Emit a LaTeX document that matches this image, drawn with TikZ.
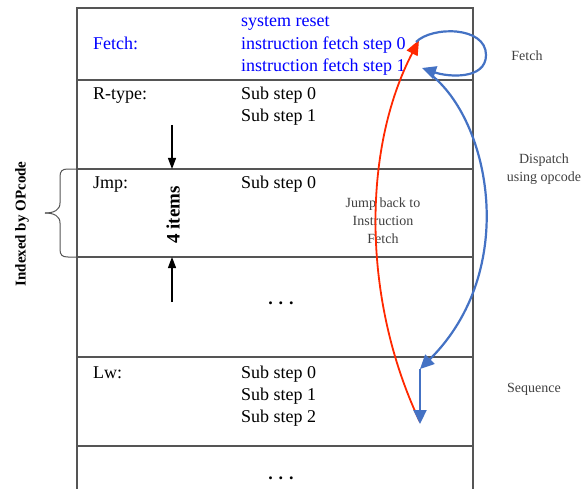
\documentclass[tikz,border=0pt]{standalone}
\usepackage{fontspec}
\setmainfont{Liberation Serif}
\usetikzlibrary{arrows.meta}
\definecolor{tline}{RGB}{85,85,85}
\definecolor{fblue}{RGB}{0,0,255}
\definecolor{abl}{RGB}{68,114,196}
\definecolor{ared}{RGB}{255,40,0}
\definecolor{lbl}{RGB}{64,64,64}
\begin{document}
\begin{tikzpicture}[x=1pt,y=-1pt,
  tbl/.style={draw=tline,line width=1.4pt},
  brc/.style={draw=tline,line width=1pt},
  cell/.style={anchor=base west,inner sep=0pt,font=\fontsize{18}{22}\selectfont},
  fcell/.style={cell,text=fblue},
  dots/.style={anchor=base,inner sep=0pt,font=\fontsize{18}{22}\selectfont\bfseries},
  side/.style={align=center,inner sep=0pt,text=lbl,font=\fontsize{14}{18}\selectfont},
  vlab/.style={rotate=90,inner sep=0pt,font=\fontsize{15}{18}\selectfont\bfseries},
  bigvlab/.style={vlab,font=\fontsize{19}{22}\selectfont\bfseries},
  bluearr/.style={draw=abl,line width=2.2pt,-{Triangle[length=14pt,width=13pt]}},
  redarr/.style={draw=ared,line width=1.8pt,-{Triangle[length=15pt,width=12pt]}},
  blkarr/.style={draw=black,line width=1.2pt,-{Triangle[length=11pt,width=8pt]}}
]
\useasboundingbox (0,0) rectangle (588,489);

% table frame
\draw[tbl] (77,489) -- (77,8) -- (473,8) -- (473,489);
\foreach \yy in {80,169,257,357,446} \draw[tbl] (77,\yy) -- (473,\yy);

% brace
\draw[brc] (77,169) -- (68,169) .. controls (62,169) and (60,171) .. (60,177) -- (60,203)
  .. controls (60,210) and (54,213) .. (45,213);
\draw[brc] (77,257) -- (68,257) .. controls (62,257) and (60,255) .. (60,249) -- (60,223)
  .. controls (60,216) and (54,213) .. (45,213);

% row texts
\node[fcell] (sysr) at (241,27) {system reset};
\node[fcell] (fetchl) at (93,50) {Fetch:};
\node[fcell] (if0) at (241,50) {instruction fetch step 0};
\node[fcell] (if1) at (241,72) {instruction fetch step 1};
\node[cell] (rtype) at (93,100) {R-type:};
\node[cell] (r0) at (241,100) {Sub step 0};
\node[cell] (r1) at (241,122) {Sub step 1};
\node[cell] (jmp) at (93,188) {Jmp:};
\node[cell] (j0) at (241,188) {Sub step 0};
\node[dots] (dots1) at (281,304) {. . .};
\node[cell] (lw) at (93,378) {Lw:};
\node[cell] (l0) at (241,378) {Sub step 0};
\node[cell] (l1) at (241,400) {Sub step 1};
\node[cell] (l2) at (241,422) {Sub step 2};
\node[dots] (dots2) at (281,479) {. . .};

% vertical labels
\node[vlab] (idx) at (22,224) {Indexed by OPcode};
\node[bigvlab] (items) at (173,215) {4 items};
\coordinate (a1s) at (172,125);
\coordinate (a1e) at (172,169);
\coordinate (a2s) at (172,302);
\coordinate (a2e) at (172,257);
\draw[blkarr] (a1s) -- (a1e);
\draw[blkarr] (a2s) -- (a2e);

% side labels
\node[side] (sfetch) at (527,56) {Fetch};
\node[side] (sdisp) at (544,169) {Dispatch\\using opcode};
\node[side] (sseq) at (534,389) {Sequence};
\node[side] (sjump) at (383,221) {Jump back to\\Instruction\\Fetch};

% arrows
\coordinate (st0) at (416,42);
\coordinate (st1) at (422,68);
\coordinate (st1b) at (430,74);
\coordinate (lwin) at (420,369);
\coordinate (lwout) at (420,424);
\coordinate (redS) at (420,422);
\coordinate (redE) at (419,40);

\draw[redarr] (redS) .. controls (362,300) and (362,150) .. (redE);
\draw[bluearr] (st0) .. controls (432,26) and (486,26) .. (486,55)
  .. controls (486,80) and (448,77) .. (st1);
\draw[bluearr] (st1b) .. controls (490,120) and (520,270) .. (lwin);
\draw[bluearr] (lwin) -- (lwout);
\end{tikzpicture}
\end{document}
